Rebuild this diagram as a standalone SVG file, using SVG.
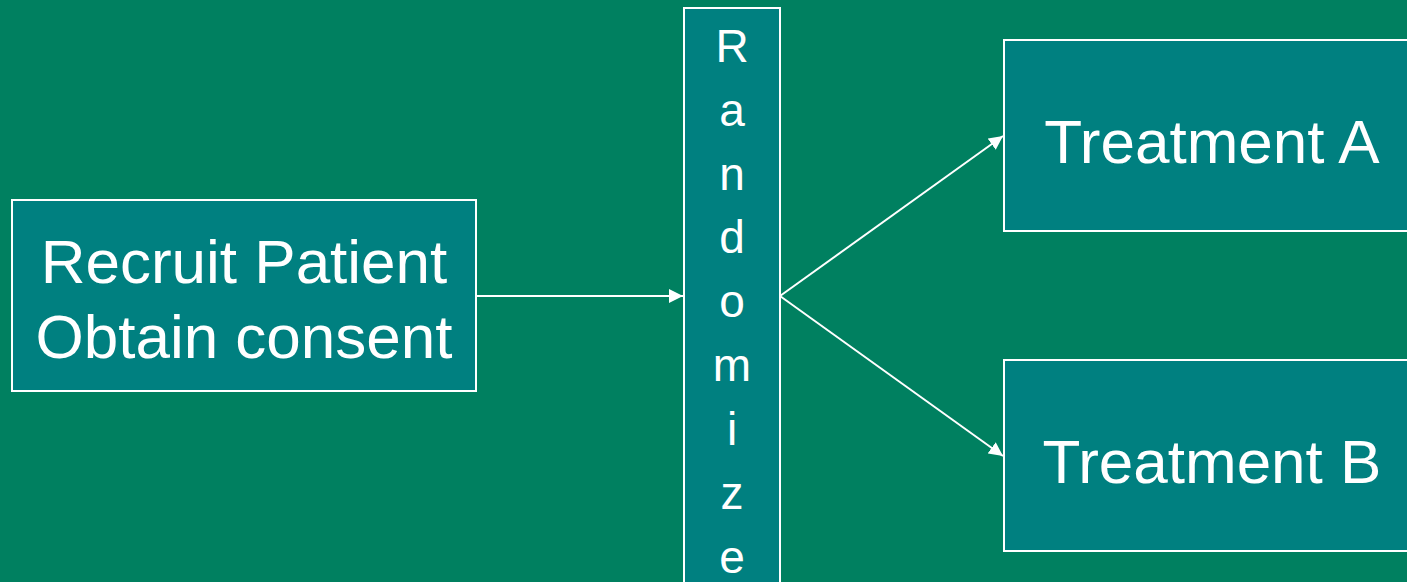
<svg xmlns="http://www.w3.org/2000/svg" width="1407" height="582" viewBox="0 0 1407 582">
<style>
.box{fill:#008080;stroke:#ffffff;stroke-width:2}
.t{font-family:"Liberation Sans",Arial,sans-serif;fill:#ffffff;font-size:62px;text-anchor:middle}
.r{font-family:"Liberation Sans",Arial,sans-serif;fill:#ffffff;font-size:46px;text-anchor:middle}
.c{stroke:#ffffff;stroke-width:2;fill:none}
</style>
<defs>
<marker id="ah" viewBox="0 0 10 10" refX="10" refY="5" markerWidth="7" markerHeight="7" orient="auto" markerUnits="strokeWidth">
<path d="M0,0 L10,5 L0,10 Z" fill="#ffffff"/>
</marker>
</defs>
<rect width="1407" height="582" fill="#008060"/>
<g id="recruit">
<rect class="box" x="12" y="200" width="464" height="191"/>
<text class="t" x="244" y="283">Recruit Patient</text>
<text class="t" x="244" y="358">Obtain consent</text>
</g>
<g id="randomize">
<rect class="box" x="684" y="8" width="96" height="590"/>
<text class="r" x="732" y="62">R</text>
<text class="r" x="732" y="126">a</text>
<text class="r" x="732" y="190">n</text>
<text class="r" x="732" y="253">d</text>
<text class="r" x="732" y="317">o</text>
<text class="r" x="732" y="381">m</text>
<text class="r" x="732" y="445">i</text>
<text class="r" x="732" y="509">z</text>
<text class="r" x="732" y="573">e</text>
</g>
<g id="treatmentA">
<rect class="box" x="1004" y="40" width="420" height="191"/>
<text class="t" x="1212" y="163">Treatment A</text>
</g>
<g id="treatmentB">
<rect class="box" x="1004" y="360" width="420" height="191"/>
<text class="t" x="1212" y="483">Treatment B</text>
</g>
<g id="connectors">
<line class="c" x1="476" y1="296" x2="683" y2="296" marker-end="url(#ah)"/>
<line class="c" x1="780" y1="296" x2="1003" y2="136" marker-end="url(#ah)"/>
<line class="c" x1="780" y1="296" x2="1003" y2="456" marker-end="url(#ah)"/>
</g>
</svg>
